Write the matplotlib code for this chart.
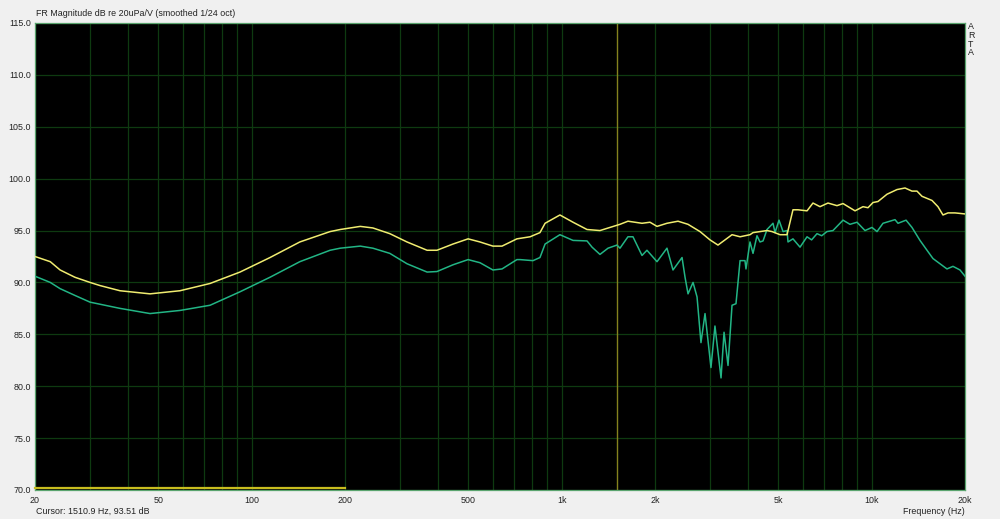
import numpy as np
import matplotlib
matplotlib.use('Agg')
import matplotlib.pyplot as plt
from matplotlib.ticker import FixedLocator, NullFormatter

# Datos (frecuencia en Hz, nivel en dB)
freq_amarilla = [20, 22.4, 24.1, 26.9, 30.1, 32.4, 37.6, 47, 58.7, 73.4, 91.7, 114.6, 143, 179, 193,
                 224, 246, 279, 317, 368, 396, 446, 499, 545, 600, 642, 717, 791, 851, 884, 987,
                 1088, 1207, 1329, 1542, 1636, 1816, 1927, 2030, 2186, 2373, 2556, 2794, 3009, 3193,
                 3364, 3544, 3762, 4050, 4142, 4596, 4770, 5062, 5333, 5451, 5573, 5786, 6187, 6466,
                 6812, 7228, 7728, 8083, 8836, 9376, 9731, 10099, 10482, 11206, 12070, 12811, 13490,
                 14000, 14530, 15652, 16362, 16982, 17626, 18566, 20000]
db_amarilla = [92.5, 92.0, 91.2, 90.5, 90.0, 89.7, 89.2, 88.9, 89.2, 89.9, 91.0, 92.4, 93.9, 94.9, 95.1,
               95.4, 95.25, 94.7, 93.9, 93.1, 93.1, 93.7, 94.2, 93.9, 93.5, 93.5, 94.2, 94.4, 94.8, 95.7, 96.5,
               95.8, 95.1, 95.0, 95.6, 95.9, 95.7, 95.8, 95.4, 95.7, 95.9, 95.6, 94.9, 94.1, 93.6,
               94.1, 94.6, 94.4, 94.6, 94.8, 95.0, 94.9, 94.6, 94.6, 95.8, 97.0, 97.0, 96.9, 97.65,
               97.3, 97.65, 97.4, 97.6, 96.9, 97.3, 97.2, 97.7, 97.8, 98.5, 98.95, 99.1, 98.8,
               98.8, 98.3, 97.9, 97.3, 96.5, 96.7, 96.7, 96.6]

freq_verde = [20, 22.4, 24.1, 26.9, 30.1, 37.6, 47, 58.7, 73.4, 91.7, 114.6, 143, 179, 193, 224, 246,
              279, 317, 368, 396, 446, 499, 545, 600, 642, 717, 734, 808, 851, 884, 987, 1088, 1207,
              1253, 1329, 1411, 1508, 1542, 1636, 1698, 1816, 1884, 2030, 2186, 2286, 2445, 2500,
              2556, 2653, 2733, 2814, 2900, 3031, 3122, 3266, 3340, 3440, 3544, 3650, 3762, 3902,
              3931, 4050, 4142, 4266, 4363, 4462, 4596, 4805, 4878, 5024, 5177, 5333, 5371, 5573,
              5873, 6187, 6400, 6662, 6900, 7173, 7502, 8083, 8511, 8968, 9516, 10023, 10404, 10878,
              11892, 12160, 12908, 13490, 14316, 15082, 15768, 16608, 17494, 18292, 19272, 20000]
db_verde = [90.6, 90.0, 89.4, 88.75, 88.1, 87.5, 87.0, 87.3, 87.8, 89.1, 90.5, 92.0, 93.1, 93.3, 93.5, 93.3,
            92.8, 91.8, 91.0, 91.05, 91.7, 92.2, 91.9, 91.2, 91.3, 92.2, 92.2, 92.1, 92.4, 93.7, 94.6, 94.05, 94.0,
            93.4, 92.7, 93.3, 93.6, 93.3, 94.4, 94.4, 92.6, 93.1, 92.0, 93.3, 91.2, 92.4, 90.5,
            88.9, 90.0, 88.6, 84.2, 87.0, 81.8, 85.8, 80.8, 85.2, 82.0, 87.8, 87.95, 92.1, 92.1,
            91.3, 93.9, 92.8, 94.5, 93.9, 94.0, 95.1, 95.7, 94.8, 96.0, 94.9, 95.0, 93.9, 94.2,
            93.4, 94.4, 94.1, 94.7, 94.5, 94.9, 95.0, 96.0, 95.6, 95.8, 95.0, 95.3, 94.9, 95.7,
            96.05, 95.7, 96.0, 95.3, 94.05, 93.1, 92.3, 91.8, 91.3, 91.55, 91.2, 90.6]

ticks_x = [20, 50, 100, 200, 500, 1000, 2000, 5000, 10000, 20000]
etiquetas_x = ['20', '50', '100', '200', '500', '1k', '2k', '5k', '10k', '20k']
ticks_y = [70, 75, 80, 85, 90, 95, 100, 105, 110, 115]
cursor_hz = 1510.9
cursor_db = 93.51

plt.rcParams['font.family'] = ['Liberation Sans', 'DejaVu Sans']
tam = 6.4

fig = plt.figure(figsize=(10, 5.19), dpi=100, facecolor='#f0f0f0')
ax = fig.add_axes([0.035, 0.0559, 0.93, 0.8998])
ax.set_facecolor('black')
ax.set_xscale('log')
ax.set_xlim(20, 20000)
ax.set_ylim(70, 115)

# Rejilla: lineas verticales en cada decada y subdivisiones
rejilla = []
for dec in [10, 100, 1000, 10000]:
    for m in range(1, 10):
        f = dec * m
        if 20 <= f <= 20000:
            rejilla.append(f)
for f in rejilla:
    ax.axvline(f, color='#0e3a10', lw=0.9, zorder=1)
for y in ticks_y:
    ax.axhline(y, color='#0e3a10', lw=0.9, zorder=1)

# Cursor y marcador inferior
ax.axvline(cursor_hz, color='#84821e', lw=1.0, zorder=2)
ax.plot([20, 200], [70.15, 70.15], color='#c8bc1e', lw=1.6, zorder=3, clip_on=False)

ax.plot(freq_verde, db_verde, color='#22b585', lw=1.1, zorder=4)
ax.plot(freq_amarilla, db_amarilla, color='#f0ec70', lw=1.1, zorder=5)

ax.xaxis.set_major_locator(FixedLocator(ticks_x))
ax.set_xticklabels(etiquetas_x)
ax.xaxis.set_minor_formatter(NullFormatter())
ax.set_yticks(ticks_y)
ax.set_yticklabels(['%.1f' % v for v in ticks_y])
ax.tick_params(axis='both', which='both', length=0, labelsize=tam, colors='#222222')
ax.tick_params(axis='x', pad=4)
ax.tick_params(axis='y', pad=3)

for s in ax.spines.values():
    s.set_color('#5aa46e')
    s.set_linewidth(0.9)

fig.text(0.036, 0.965, 'FR Magnitude dB re 20uPa/V (smoothed 1/24 oct)', fontsize=tam,
         color='#222222', va='bottom', ha='left')
fig.text(0.036, 0.006, 'Cursor: %.1f Hz, %.2f dB' % (cursor_hz, cursor_db), fontsize=tam,
         color='#222222', va='bottom', ha='left')
fig.text(0.965, 0.006, 'Frequency (Hz)', fontsize=tam, color='#222222', va='bottom', ha='right')

# Marca vertical "ARTA" a la derecha
for i, letra in enumerate('ARTA'):
    fig.text(0.971, 0.948 - i * 0.0165, letra, fontsize=tam, color='#222222',
             va='center', ha='center')

plt.savefig('out.png', dpi=100, facecolor=fig.get_facecolor())
